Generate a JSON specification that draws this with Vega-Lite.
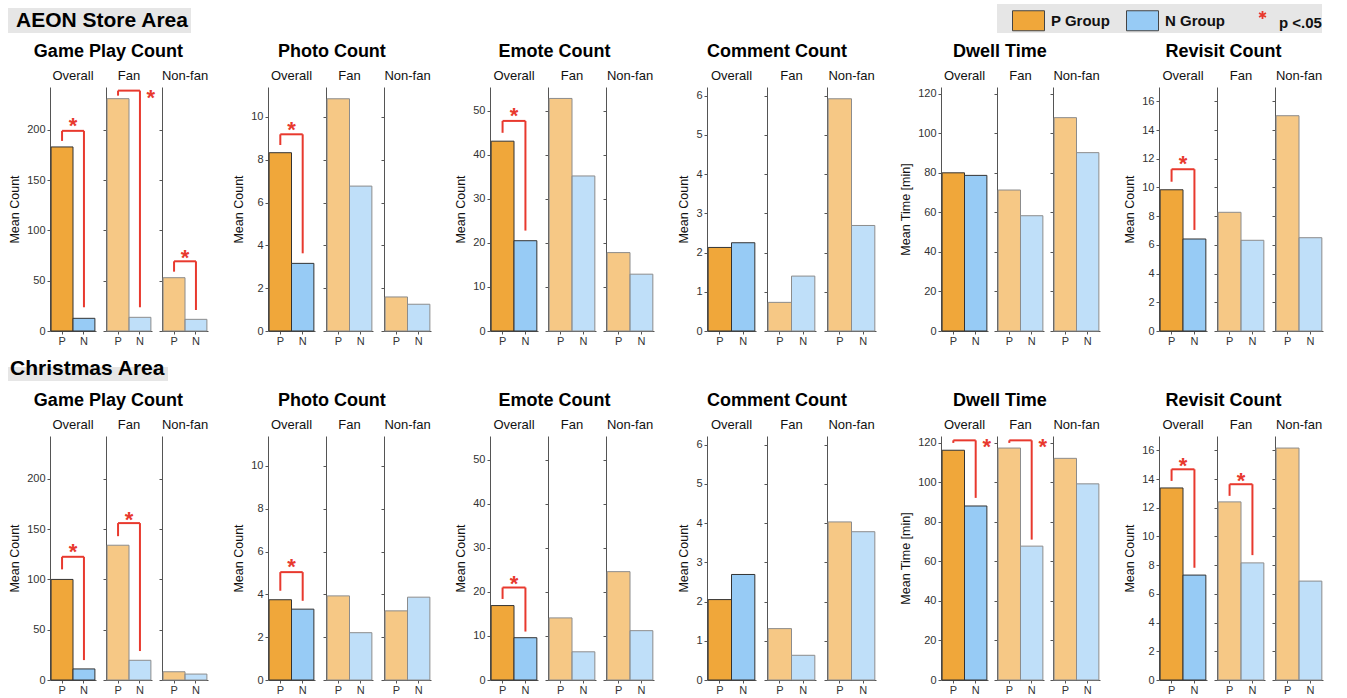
{
"$schema": "https://vega.github.io/schema/vega-lite/v6.json",
"padding": {"left": 8, "top": 4, "right": 5, "bottom": 0},
"background": "white",
"config": {
  "font": "Liberation Sans",
  "view": {"stroke": null},
  "axis": {"grid": false, "domainColor": "#555", "tickColor": "#555", "labelColor": "#333", "labelFontSize": 11, "titleFontSize": 12.5, "titleFontWeight": "normal", "titleColor": "#111", "tickSize": 3, "labelPadding": 2, "titlePadding": 5},
  "axisX": {"labelAngle": 0, "tickSize": 3, "labelPadding": 1, "labelFontSize": 11},
  "title": {"fontSize": 13, "fontWeight": "normal", "color": "#111", "frame": "group", "anchor": "middle", "offset": 0},
  "legend": {"fillColor": "#e6e6e6", "padding": 0, "symbolSize": 1024, "symbolStrokeWidth": 1, "labelFontSize": 15, "labelFontWeight": "bold", "labelColor": "#111", "labelOffset": 21, "columnPadding": 0, "labelFont": "Liberation Sans", "symbolOpacity": 1, "labelLimit": 300}
},
"spacing": 10,
"vconcat": [
{"data": {"values": []}, "width": 185, "height": 25, "mark": "point"},
{"spacing": 23, "hconcat": [
 {"title": {"text": "Game Play Count", "frame": "bounds", "fontSize": 18, "fontWeight": "bold", "color": "#000", "offset": 9},
  "data": {"values": [
   {"s":"Overall","k":"bar","a":"P","v":183},{"s":"Overall","k":"bar","a":"N","v":12.6},
   {"s":"Overall","k":"seg","a":"P","b":"P","v":189,"v2":199},{"s":"Overall","k":"seg","a":"P","b":"N","v":199,"v2":199},{"s":"Overall","k":"seg","a":"N","b":"N","v":23.6,"v2":199},{"s":"Overall","k":"star","a":"P","v":209.8},
   {"s":"Fan","k":"bar","a":"P","v":231},{"s":"Fan","k":"bar","a":"N","v":13.6},
   {"s":"Fan","k":"seg","a":"P","b":"P","v":234,"v2":239},{"s":"Fan","k":"seg","a":"P","b":"N","v":239,"v2":239},{"s":"Fan","k":"seg","a":"N","b":"N","v":23.6,"v2":239},{"s":"Fan","k":"star","a":"N","v":237.6},
   {"s":"Non-fan","k":"bar","a":"P","v":53},{"s":"Non-fan","k":"bar","a":"N","v":11.6},
   {"s":"Non-fan","k":"seg","a":"P","b":"P","v":59,"v2":69.3},{"s":"Non-fan","k":"seg","a":"P","b":"N","v":69.3,"v2":69.3},{"s":"Non-fan","k":"seg","a":"N","b":"N","v":20.9,"v2":69.3},{"s":"Non-fan","k":"star","a":"P","v":78.2}
  ]},
  "bounds": "flush", "spacing": 10,
  "hconcat": [
   {"title": "Overall", "width": 46, "height": 244, "transform": [{"filter": "datum.s === 'Overall'"}],
    "encoding": {"x": {"field":"a","type":"nominal","scale":{"domain":["P","N"],"paddingInner":0,"paddingOuter":0.05},"axis":{"title":null}},
                 "y": {"field":"v","type":"quantitative","scale":{"domain":[0,242.6],"nice":false},"axis":{"title":"Mean Count","values":[0,50,100,150,200]}}},
    "layer": [
     {"transform":[{"filter":"datum.k === 'bar'"}],"mark":{"type":"bar","stroke":"#333","strokeWidth":1},"encoding":{"color":{"field":"a","type":"nominal","title":null,"scale":{"domain":["P","N","sig"],"range":["#F0A73A","#97CBF5","#E8392E"]}}}},
     {"transform":[{"filter":"datum.k === 'seg'"}],"mark":{"type":"rule","color":"#E8392E","strokeWidth":2},"encoding":{"x2":{"field":"b"},"y2":{"field":"v2"}}},
     {"transform":[{"filter":"datum.k === 'star'"}],"mark":{"type":"text","text":"*","fontSize":22,"fontWeight":"bold","color":"#E8392E","baseline":"middle","dy":6},"encoding":{"x":{"field":"a","type":"nominal","bandPosition":1,"scale":{"domain":["P","N"],"paddingInner":0,"paddingOuter":0.05},"axis":{"title":null}}}},
     {"transform":[{"filter":"datum.k === 'legendonly'"}],"mark":{"type":"point","filled":true,"opacity":1},
      "encoding":{
       "color":{"field":"a","type":"nominal","title":null,"scale":{"domain":["P","N","sig"],"range":["#F0A73A","#97CBF5","#E8392E"]},
         "legend":{"orient":"none","legendX":947,"legendY":-4,"direction":"horizontal","labelExpr":"datum.value === 'P' ? 'P Group' : datum.value === 'N' ? 'N Group' : 'p <.05'",
           "encode":{"labels":{"fontWeight":{"condition":{"test":"datum.value === 'sig'","value":"normal"},"value":"bold"}}}}},
       "shape":{"field":"a","type":"nominal","title":null,"scale":{"domain":["P","N","sig"],"range":["M-0.0625,-0.625H1.9375V0.625H-0.0625Z","M-0.0625,-0.625H1.9375V0.625H-0.0625Z","M1.256,-0.731L1.369,-0.731L1.369,-0.231L1.256,-0.231ZM1.501,-0.308L1.068,-0.558L1.124,-0.655L1.557,-0.405ZM1.557,-0.558L1.124,-0.308L1.068,-0.405L1.501,-0.655Z"]},
         "legend":{"orient":"none","legendX":947,"legendY":-4,"direction":"horizontal","labelExpr":"datum.value === 'P' ? 'P Group' : datum.value === 'N' ? 'N Group' : 'p <.05'"}},
       "stroke":{"field":"a","type":"nominal","title":null,"scale":{"domain":["P","N","sig"],"range":["#444444","#444444","transparent"]},
         "legend":{"orient":"none","legendX":947,"legendY":-4,"direction":"horizontal","labelExpr":"datum.value === 'P' ? 'P Group' : datum.value === 'N' ? 'N Group' : 'p <.05'"}},
       "strokeDash":{"field":"a","type":"nominal","title":null,"scale":{"domain":["AEON Store Area"],"range":[[1,0]]},
         "legend":{"orient":"none","legendX":-42,"legendY":0,"fillColor":"#e6e6e6","padding":2,"labelFontSize":21,"labelFontWeight":"bold","labelColor":"#000","symbolSize":0,"symbolOpacity":0,"symbolStrokeWidth":0,"labelOffset":-15,"labelLimit":300}},
       "size":{"field":"a","type":"ordinal","title":null,"scale":{"domain":["Christmas Area"],"range":[0]},
         "legend":{"orient":"none","legendX":-42,"legendY":359,"fillColor":"#e6e6e6","padding":2,"labelFontSize":21,"labelFontWeight":"bold","labelColor":"#000","symbolSize":0,"symbolOpacity":0,"symbolStrokeWidth":0,"labelOffset":18,"labelLimit":300}}}}
    ]},
   {"title": "Fan", "width": 46, "height": 244, "transform": [{"filter": "datum.s === 'Fan'"}],
    "encoding": {"x": {"field":"a","type":"nominal","scale":{"domain":["P","N"],"paddingInner":0,"paddingOuter":0.05},"axis":{"title":null}},
                 "y": {"field":"v","type":"quantitative","scale":{"domain":[0,242.6],"nice":false},"axis":{"title":null,"labels":false,"values":[0,50,100,150,200]}}},
    "layer": [
     {"transform":[{"filter":"datum.k === 'bar'"}],"mark":{"type":"bar","stroke":"#8c8c8c","strokeWidth":1,"fillOpacity":0.62},"encoding":{"color":{"field":"a","type":"nominal","title":null,"scale":{"domain":["P","N","sig"],"range":["#F0A73A","#97CBF5","#E8392E"]}}}},
     {"transform":[{"filter":"datum.k === 'seg'"}],"mark":{"type":"rule","color":"#E8392E","strokeWidth":2},"encoding":{"x2":{"field":"b"},"y2":{"field":"v2"}}},
     {"transform":[{"filter":"datum.k === 'star'"}],"mark":{"type":"text","text":"*","fontSize":22,"fontWeight":"bold","color":"#E8392E","baseline":"middle","dy":6},"encoding":{"x":{"field":"a","type":"nominal","bandPosition":1,"scale":{"domain":["P","N"],"paddingInner":0,"paddingOuter":0.05},"axis":{"title":null}}}}
    ]},
   {"title": "Non-fan", "width": 46, "height": 244, "transform": [{"filter": "datum.s === 'Non-fan'"}],
    "encoding": {"x": {"field":"a","type":"nominal","scale":{"domain":["P","N"],"paddingInner":0,"paddingOuter":0.05},"axis":{"title":null}},
                 "y": {"field":"v","type":"quantitative","scale":{"domain":[0,242.6],"nice":false},"axis":{"title":null,"labels":false,"values":[0,50,100,150,200]}}},
    "layer": [
     {"transform":[{"filter":"datum.k === 'bar'"}],"mark":{"type":"bar","stroke":"#8c8c8c","strokeWidth":1,"fillOpacity":0.62},"encoding":{"color":{"field":"a","type":"nominal","title":null,"scale":{"domain":["P","N","sig"],"range":["#F0A73A","#97CBF5","#E8392E"]}}}},
     {"transform":[{"filter":"datum.k === 'seg'"}],"mark":{"type":"rule","color":"#E8392E","strokeWidth":2},"encoding":{"x2":{"field":"b"},"y2":{"field":"v2"}}},
     {"transform":[{"filter":"datum.k === 'star'"}],"mark":{"type":"text","text":"*","fontSize":22,"fontWeight":"bold","color":"#E8392E","baseline":"middle","dy":6},"encoding":{"x":{"field":"a","type":"nominal","bandPosition":1,"scale":{"domain":["P","N"],"paddingInner":0,"paddingOuter":0.05},"axis":{"title":null}}}}
    ]}
  ]},
 {"title": {"text": "Photo Count", "frame": "bounds", "fontSize": 18, "fontWeight": "bold", "color": "#000", "offset": 9},
  "data": {"values": [
   {"s":"Overall","k":"bar","a":"P","v":8.33},{"s":"Overall","k":"bar","a":"N","v":3.16},
   {"s":"Overall","k":"seg","a":"P","b":"P","v":8.69,"v2":9.19},{"s":"Overall","k":"seg","a":"P","b":"N","v":9.19,"v2":9.19},{"s":"Overall","k":"seg","a":"N","b":"N","v":3.63,"v2":9.19},{"s":"Overall","k":"star","a":"P","v":9.67},
   {"s":"Fan","k":"bar","a":"P","v":10.85},{"s":"Fan","k":"bar","a":"N","v":6.77},
   {"s":"Non-fan","k":"bar","a":"P","v":1.59},{"s":"Non-fan","k":"bar","a":"N","v":1.25}
  ]},
  "bounds": "flush", "spacing": 11,
  "hconcat": [
   {"title": "Overall", "width": 47, "height": 244, "transform": [{"filter": "datum.s === 'Overall'"}],
    "encoding": {"x": {"field":"a","type":"nominal","scale":{"domain":["P","N"],"paddingInner":0,"paddingOuter":0.05},"axis":{"title":null}},
                 "y": {"field":"v","type":"quantitative","scale":{"domain":[0,11.4],"nice":false},"axis":{"title":"Mean Count","values":[0,2,4,6,8,10]}}},
    "layer": [
     {"transform":[{"filter":"datum.k === 'bar'"}],"mark":{"type":"bar","stroke":"#333","strokeWidth":1},"encoding":{"color":{"field":"a","type":"nominal","title":null,"scale":{"domain":["P","N","sig"],"range":["#F0A73A","#97CBF5","#E8392E"]}}}},
     {"transform":[{"filter":"datum.k === 'seg'"}],"mark":{"type":"rule","color":"#E8392E","strokeWidth":2},"encoding":{"x2":{"field":"b"},"y2":{"field":"v2"}}},
     {"transform":[{"filter":"datum.k === 'star'"}],"mark":{"type":"text","text":"*","fontSize":22,"fontWeight":"bold","color":"#E8392E","baseline":"middle","dy":6},"encoding":{"x":{"field":"a","type":"nominal","bandPosition":1,"scale":{"domain":["P","N"],"paddingInner":0,"paddingOuter":0.05},"axis":{"title":null}}}}
    ]},
   {"title": "Fan", "width": 47, "height": 244, "transform": [{"filter": "datum.s === 'Fan' && datum.k === 'bar'"}], "mark": {"type":"bar","stroke":"#8c8c8c","strokeWidth":1,"fillOpacity":0.62},
    "encoding": {"x": {"field":"a","type":"nominal","scale":{"domain":["P","N"],"paddingInner":0,"paddingOuter":0.05},"axis":{"title":null}},
                 "y": {"field":"v","type":"quantitative","scale":{"domain":[0,11.4],"nice":false},"axis":{"title":null,"labels":false,"values":[0,2,4,6,8,10]}},
                 "color":{"field":"a","type":"nominal","title":null,"scale":{"domain":["P","N","sig"],"range":["#F0A73A","#97CBF5","#E8392E"]}}}},
   {"title": "Non-fan", "width": 47, "height": 244, "transform": [{"filter": "datum.s === 'Non-fan' && datum.k === 'bar'"}], "mark": {"type":"bar","stroke":"#8c8c8c","strokeWidth":1,"fillOpacity":0.62},
    "encoding": {"x": {"field":"a","type":"nominal","scale":{"domain":["P","N"],"paddingInner":0,"paddingOuter":0.05},"axis":{"title":null}},
                 "y": {"field":"v","type":"quantitative","scale":{"domain":[0,11.4],"nice":false},"axis":{"title":null,"labels":false,"values":[0,2,4,6,8,10]}},
                 "color":{"field":"a","type":"nominal","title":null,"scale":{"domain":["P","N","sig"],"range":["#F0A73A","#97CBF5","#E8392E"]}}}}
  ]},
 {"title": {"text": "Emote Count", "frame": "bounds", "fontSize": 18, "fontWeight": "bold", "color": "#000", "offset": 9},
  "data": {"values": [
   {"s":"Overall","k":"bar","a":"P","v":43.1},{"s":"Overall","k":"bar","a":"N","v":20.5},
   {"s":"Overall","k":"seg","a":"P","b":"P","v":45.0,"v2":47.7},{"s":"Overall","k":"seg","a":"P","b":"N","v":47.7,"v2":47.7},{"s":"Overall","k":"seg","a":"N","b":"N","v":22.8,"v2":47.7},{"s":"Overall","k":"star","a":"P","v":50.2},
   {"s":"Fan","k":"bar","a":"P","v":52.8},{"s":"Fan","k":"bar","a":"N","v":35.2},
   {"s":"Non-fan","k":"bar","a":"P","v":17.8},{"s":"Non-fan","k":"bar","a":"N","v":12.9}
  ]},
  "bounds": "flush", "spacing": 10,
  "hconcat": [
   {"title": "Overall", "width": 48, "height": 244, "transform": [{"filter": "datum.s === 'Overall'"}],
    "encoding": {"x": {"field":"a","type":"nominal","scale":{"domain":["P","N"],"paddingInner":0,"paddingOuter":0.05},"axis":{"title":null}},
                 "y": {"field":"v","type":"quantitative","scale":{"domain":[0,55.4],"nice":false},"axis":{"title":"Mean Count","values":[0,10,20,30,40,50]}}},
    "layer": [
     {"transform":[{"filter":"datum.k === 'bar'"}],"mark":{"type":"bar","stroke":"#333","strokeWidth":1},"encoding":{"color":{"field":"a","type":"nominal","title":null,"scale":{"domain":["P","N","sig"],"range":["#F0A73A","#97CBF5","#E8392E"]}}}},
     {"transform":[{"filter":"datum.k === 'seg'"}],"mark":{"type":"rule","color":"#E8392E","strokeWidth":2},"encoding":{"x2":{"field":"b"},"y2":{"field":"v2"}}},
     {"transform":[{"filter":"datum.k === 'star'"}],"mark":{"type":"text","text":"*","fontSize":22,"fontWeight":"bold","color":"#E8392E","baseline":"middle","dy":6},"encoding":{"x":{"field":"a","type":"nominal","bandPosition":1,"scale":{"domain":["P","N"],"paddingInner":0,"paddingOuter":0.05},"axis":{"title":null}}}}
    ]},
   {"title": "Fan", "width": 48, "height": 244, "transform": [{"filter": "datum.s === 'Fan' && datum.k === 'bar'"}], "mark": {"type":"bar","stroke":"#8c8c8c","strokeWidth":1,"fillOpacity":0.62},
    "encoding": {"x": {"field":"a","type":"nominal","scale":{"domain":["P","N"],"paddingInner":0,"paddingOuter":0.05},"axis":{"title":null}},
                 "y": {"field":"v","type":"quantitative","scale":{"domain":[0,55.4],"nice":false},"axis":{"title":null,"labels":false,"values":[0,10,20,30,40,50]}},
                 "color":{"field":"a","type":"nominal","title":null,"scale":{"domain":["P","N","sig"],"range":["#F0A73A","#97CBF5","#E8392E"]}}}},
   {"title": "Non-fan", "width": 48, "height": 244, "transform": [{"filter": "datum.s === 'Non-fan' && datum.k === 'bar'"}], "mark": {"type":"bar","stroke":"#8c8c8c","strokeWidth":1,"fillOpacity":0.62},
    "encoding": {"x": {"field":"a","type":"nominal","scale":{"domain":["P","N"],"paddingInner":0,"paddingOuter":0.05},"axis":{"title":null}},
                 "y": {"field":"v","type":"quantitative","scale":{"domain":[0,55.4],"nice":false},"axis":{"title":null,"labels":false,"values":[0,10,20,30,40,50]}},
                 "color":{"field":"a","type":"nominal","title":null,"scale":{"domain":["P","N","sig"],"range":["#F0A73A","#97CBF5","#E8392E"]}}}}
  ]},
 {"title": {"text": "Comment Count", "frame": "bounds", "fontSize": 18, "fontWeight": "bold", "color": "#000", "offset": 9},
  "data": {"values": [
   {"s":"Overall","k":"bar","a":"P","v":2.13},{"s":"Overall","k":"bar","a":"N","v":2.25},
   {"s":"Fan","k":"bar","a":"P","v":0.73},{"s":"Fan","k":"bar","a":"N","v":1.40},
   {"s":"Non-fan","k":"bar","a":"P","v":5.92},{"s":"Non-fan","k":"bar","a":"N","v":2.69}
  ]},
  "bounds": "flush", "spacing": 11,
  "hconcat": [
   {"title": "Overall", "width": 49, "height": 244, "transform": [{"filter": "datum.s === 'Overall' && datum.k === 'bar'"}], "mark": {"type":"bar","stroke":"#333","strokeWidth":1},
    "encoding": {"x": {"field":"a","type":"nominal","scale":{"domain":["P","N"],"paddingInner":0,"paddingOuter":0.05},"axis":{"title":null}},
                 "y": {"field":"v","type":"quantitative","scale":{"domain":[0,6.22],"nice":false},"axis":{"title":"Mean Count","values":[0,1,2,3,4,5,6]}},
                 "color":{"field":"a","type":"nominal","title":null,"scale":{"domain":["P","N","sig"],"range":["#F0A73A","#97CBF5","#E8392E"]}}}},
   {"title": "Fan", "width": 49, "height": 244, "transform": [{"filter": "datum.s === 'Fan' && datum.k === 'bar'"}], "mark": {"type":"bar","stroke":"#8c8c8c","strokeWidth":1,"fillOpacity":0.62},
    "encoding": {"x": {"field":"a","type":"nominal","scale":{"domain":["P","N"],"paddingInner":0,"paddingOuter":0.05},"axis":{"title":null}},
                 "y": {"field":"v","type":"quantitative","scale":{"domain":[0,6.22],"nice":false},"axis":{"title":null,"labels":false,"values":[0,1,2,3,4,5,6]}},
                 "color":{"field":"a","type":"nominal","title":null,"scale":{"domain":["P","N","sig"],"range":["#F0A73A","#97CBF5","#E8392E"]}}}},
   {"title": "Non-fan", "width": 49, "height": 244, "transform": [{"filter": "datum.s === 'Non-fan' && datum.k === 'bar'"}], "mark": {"type":"bar","stroke":"#8c8c8c","strokeWidth":1,"fillOpacity":0.62},
    "encoding": {"x": {"field":"a","type":"nominal","scale":{"domain":["P","N"],"paddingInner":0,"paddingOuter":0.05},"axis":{"title":null}},
                 "y": {"field":"v","type":"quantitative","scale":{"domain":[0,6.22],"nice":false},"axis":{"title":null,"labels":false,"values":[0,1,2,3,4,5,6]}},
                 "color":{"field":"a","type":"nominal","title":null,"scale":{"domain":["P","N","sig"],"range":["#F0A73A","#97CBF5","#E8392E"]}}}}
  ]},
 {"title": {"text": "Dwell Time", "frame": "bounds", "fontSize": 18, "fontWeight": "bold", "color": "#000", "offset": 9},
  "data": {"values": [
   {"s":"Overall","k":"bar","a":"P","v":80.0},{"s":"Overall","k":"bar","a":"N","v":78.7},
   {"s":"Fan","k":"bar","a":"P","v":71.3},{"s":"Fan","k":"bar","a":"N","v":58.3},
   {"s":"Non-fan","k":"bar","a":"P","v":107.9},{"s":"Non-fan","k":"bar","a":"N","v":90.2}
  ]},
  "bounds": "flush", "spacing": 9,
  "hconcat": [
   {"title": "Overall", "width": 47, "height": 244, "transform": [{"filter": "datum.s === 'Overall' && datum.k === 'bar'"}], "mark": {"type":"bar","stroke":"#333","strokeWidth":1},
    "encoding": {"x": {"field":"a","type":"nominal","scale":{"domain":["P","N"],"paddingInner":0,"paddingOuter":0.05},"axis":{"title":null}},
                 "y": {"field":"v","type":"quantitative","scale":{"domain":[0,123.4],"nice":false},"axis":{"title":"Mean Time [min]","values":[0,20,40,60,80,100,120]}},
                 "color":{"field":"a","type":"nominal","title":null,"scale":{"domain":["P","N","sig"],"range":["#F0A73A","#97CBF5","#E8392E"]}}}},
   {"title": "Fan", "width": 47, "height": 244, "transform": [{"filter": "datum.s === 'Fan' && datum.k === 'bar'"}], "mark": {"type":"bar","stroke":"#8c8c8c","strokeWidth":1,"fillOpacity":0.62},
    "encoding": {"x": {"field":"a","type":"nominal","scale":{"domain":["P","N"],"paddingInner":0,"paddingOuter":0.05},"axis":{"title":null}},
                 "y": {"field":"v","type":"quantitative","scale":{"domain":[0,123.4],"nice":false},"axis":{"title":null,"labels":false,"values":[0,20,40,60,80,100,120]}},
                 "color":{"field":"a","type":"nominal","title":null,"scale":{"domain":["P","N","sig"],"range":["#F0A73A","#97CBF5","#E8392E"]}}}},
   {"title": "Non-fan", "width": 47, "height": 244, "transform": [{"filter": "datum.s === 'Non-fan' && datum.k === 'bar'"}], "mark": {"type":"bar","stroke":"#8c8c8c","strokeWidth":1,"fillOpacity":0.62},
    "encoding": {"x": {"field":"a","type":"nominal","scale":{"domain":["P","N"],"paddingInner":0,"paddingOuter":0.05},"axis":{"title":null}},
                 "y": {"field":"v","type":"quantitative","scale":{"domain":[0,123.4],"nice":false},"axis":{"title":null,"labels":false,"values":[0,20,40,60,80,100,120]}},
                 "color":{"field":"a","type":"nominal","title":null,"scale":{"domain":["P","N","sig"],"range":["#F0A73A","#97CBF5","#E8392E"]}}}}
  ]},
 {"title": {"text": "Revisit Count", "frame": "bounds", "fontSize": 18, "fontWeight": "bold", "color": "#000", "offset": 9},
  "data": {"values": [
   {"s":"Overall","k":"bar","a":"P","v":9.84},{"s":"Overall","k":"bar","a":"N","v":6.41},
   {"s":"Overall","k":"seg","a":"P","b":"P","v":10.40,"v2":11.27},{"s":"Overall","k":"seg","a":"P","b":"N","v":11.27,"v2":11.27},{"s":"Overall","k":"seg","a":"N","b":"N","v":7.04,"v2":11.27},{"s":"Overall","k":"star","a":"P","v":12.03},
   {"s":"Fan","k":"bar","a":"P","v":8.27},{"s":"Fan","k":"bar","a":"N","v":6.32},
   {"s":"Non-fan","k":"bar","a":"P","v":15.0},{"s":"Non-fan","k":"bar","a":"N","v":6.5}
  ]},
  "bounds": "flush", "spacing": 10,
  "hconcat": [
   {"title": "Overall", "width": 48, "height": 244, "transform": [{"filter": "datum.s === 'Overall'"}],
    "encoding": {"x": {"field":"a","type":"nominal","scale":{"domain":["P","N"],"paddingInner":0,"paddingOuter":0.05},"axis":{"title":null}},
                 "y": {"field":"v","type":"quantitative","scale":{"domain":[0,17],"nice":false},"axis":{"title":"Mean Count","values":[0,2,4,6,8,10,12,14,16]}}},
    "layer": [
     {"transform":[{"filter":"datum.k === 'bar'"}],"mark":{"type":"bar","stroke":"#333","strokeWidth":1},"encoding":{"color":{"field":"a","type":"nominal","title":null,"scale":{"domain":["P","N","sig"],"range":["#F0A73A","#97CBF5","#E8392E"]}}}},
     {"transform":[{"filter":"datum.k === 'seg'"}],"mark":{"type":"rule","color":"#E8392E","strokeWidth":2},"encoding":{"x2":{"field":"b"},"y2":{"field":"v2"}}},
     {"transform":[{"filter":"datum.k === 'star'"}],"mark":{"type":"text","text":"*","fontSize":22,"fontWeight":"bold","color":"#E8392E","baseline":"middle","dy":6},"encoding":{"x":{"field":"a","type":"nominal","bandPosition":1,"scale":{"domain":["P","N"],"paddingInner":0,"paddingOuter":0.05},"axis":{"title":null}}}}
    ]},
   {"title": "Fan", "width": 48, "height": 244, "transform": [{"filter": "datum.s === 'Fan' && datum.k === 'bar'"}], "mark": {"type":"bar","stroke":"#8c8c8c","strokeWidth":1,"fillOpacity":0.62},
    "encoding": {"x": {"field":"a","type":"nominal","scale":{"domain":["P","N"],"paddingInner":0,"paddingOuter":0.05},"axis":{"title":null}},
                 "y": {"field":"v","type":"quantitative","scale":{"domain":[0,17],"nice":false},"axis":{"title":null,"labels":false,"values":[0,2,4,6,8,10,12,14,16]}},
                 "color":{"field":"a","type":"nominal","title":null,"scale":{"domain":["P","N","sig"],"range":["#F0A73A","#97CBF5","#E8392E"]}}}},
   {"title": "Non-fan", "width": 48, "height": 244, "transform": [{"filter": "datum.s === 'Non-fan' && datum.k === 'bar'"}], "mark": {"type":"bar","stroke":"#8c8c8c","strokeWidth":1,"fillOpacity":0.62},
    "encoding": {"x": {"field":"a","type":"nominal","scale":{"domain":["P","N"],"paddingInner":0,"paddingOuter":0.05},"axis":{"title":null}},
                 "y": {"field":"v","type":"quantitative","scale":{"domain":[0,17],"nice":false},"axis":{"title":null,"labels":false,"values":[0,2,4,6,8,10,12,14,16]}},
                 "color":{"field":"a","type":"nominal","title":null,"scale":{"domain":["P","N","sig"],"range":["#F0A73A","#97CBF5","#E8392E"]}}}}
  ]}
]},
{"data": {"values": []}, "width": 185, "height": 25, "mark": "point"},
{"spacing": 23, "hconcat": [
 {"title": {"text": "Game Play Count", "frame": "bounds", "fontSize": 18, "fontWeight": "bold", "color": "#000", "offset": 9},
  "data": {"values": [
   {"s":"Overall","k":"bar","a":"P","v":100},{"s":"Overall","k":"bar","a":"N","v":11},
   {"s":"Overall","k":"seg","a":"P","b":"P","v":110,"v2":122.5},{"s":"Overall","k":"seg","a":"P","b":"N","v":122.5,"v2":122.5},{"s":"Overall","k":"seg","a":"N","b":"N","v":19.8,"v2":122.5},{"s":"Overall","k":"star","a":"P","v":133.5},
   {"s":"Fan","k":"bar","a":"P","v":134},{"s":"Fan","k":"bar","a":"N","v":19.6},
   {"s":"Fan","k":"seg","a":"P","b":"P","v":143,"v2":156},{"s":"Fan","k":"seg","a":"P","b":"N","v":156,"v2":156},{"s":"Fan","k":"seg","a":"N","b":"N","v":28.8,"v2":156},{"s":"Fan","k":"star","a":"P","v":164.6},
   {"s":"Non-fan","k":"bar","a":"P","v":8.2},{"s":"Non-fan","k":"bar","a":"N","v":5.9}
  ]},
  "bounds": "flush", "spacing": 10,
  "hconcat": [
   {"title": "Overall", "width": 46, "height": 244, "transform": [{"filter": "datum.s === 'Overall'"}],
    "encoding": {"x": {"field":"a","type":"nominal","scale":{"domain":["P","N"],"paddingInner":0,"paddingOuter":0.05},"axis":{"title":null}},
                 "y": {"field":"v","type":"quantitative","scale":{"domain":[0,242.6],"nice":false},"axis":{"title":"Mean Count","values":[0,50,100,150,200]}}},
    "layer": [
     {"transform":[{"filter":"datum.k === 'bar'"}],"mark":{"type":"bar","stroke":"#333","strokeWidth":1},"encoding":{"color":{"field":"a","type":"nominal","title":null,"scale":{"domain":["P","N","sig"],"range":["#F0A73A","#97CBF5","#E8392E"]}}}},
     {"transform":[{"filter":"datum.k === 'seg'"}],"mark":{"type":"rule","color":"#E8392E","strokeWidth":2},"encoding":{"x2":{"field":"b"},"y2":{"field":"v2"}}},
     {"transform":[{"filter":"datum.k === 'star'"}],"mark":{"type":"text","text":"*","fontSize":22,"fontWeight":"bold","color":"#E8392E","baseline":"middle","dy":6},"encoding":{"x":{"field":"a","type":"nominal","bandPosition":1,"scale":{"domain":["P","N"],"paddingInner":0,"paddingOuter":0.05},"axis":{"title":null}}}}
    ]},
   {"title": "Fan", "width": 46, "height": 244, "transform": [{"filter": "datum.s === 'Fan'"}],
    "encoding": {"x": {"field":"a","type":"nominal","scale":{"domain":["P","N"],"paddingInner":0,"paddingOuter":0.05},"axis":{"title":null}},
                 "y": {"field":"v","type":"quantitative","scale":{"domain":[0,242.6],"nice":false},"axis":{"title":null,"labels":false,"values":[0,50,100,150,200]}}},
    "layer": [
     {"transform":[{"filter":"datum.k === 'bar'"}],"mark":{"type":"bar","stroke":"#8c8c8c","strokeWidth":1,"fillOpacity":0.62},"encoding":{"color":{"field":"a","type":"nominal","title":null,"scale":{"domain":["P","N","sig"],"range":["#F0A73A","#97CBF5","#E8392E"]}}}},
     {"transform":[{"filter":"datum.k === 'seg'"}],"mark":{"type":"rule","color":"#E8392E","strokeWidth":2},"encoding":{"x2":{"field":"b"},"y2":{"field":"v2"}}},
     {"transform":[{"filter":"datum.k === 'star'"}],"mark":{"type":"text","text":"*","fontSize":22,"fontWeight":"bold","color":"#E8392E","baseline":"middle","dy":6},"encoding":{"x":{"field":"a","type":"nominal","bandPosition":1,"scale":{"domain":["P","N"],"paddingInner":0,"paddingOuter":0.05},"axis":{"title":null}}}}
    ]},
   {"title": "Non-fan", "width": 46, "height": 244, "transform": [{"filter": "datum.s === 'Non-fan' && datum.k === 'bar'"}], "mark": {"type":"bar","stroke":"#8c8c8c","strokeWidth":1,"fillOpacity":0.62},
    "encoding": {"x": {"field":"a","type":"nominal","scale":{"domain":["P","N"],"paddingInner":0,"paddingOuter":0.05},"axis":{"title":null}},
                 "y": {"field":"v","type":"quantitative","scale":{"domain":[0,242.6],"nice":false},"axis":{"title":null,"labels":false,"values":[0,50,100,150,200]}},
                 "color":{"field":"a","type":"nominal","title":null,"scale":{"domain":["P","N","sig"],"range":["#F0A73A","#97CBF5","#E8392E"]}}}}
  ]},
 {"title": {"text": "Photo Count", "frame": "bounds", "fontSize": 18, "fontWeight": "bold", "color": "#000", "offset": 9},
  "data": {"values": [
   {"s":"Overall","k":"bar","a":"P","v":3.75},{"s":"Overall","k":"bar","a":"N","v":3.31},
   {"s":"Overall","k":"seg","a":"P","b":"P","v":4.17,"v2":5.04},{"s":"Overall","k":"seg","a":"P","b":"N","v":5.04,"v2":5.04},{"s":"Overall","k":"seg","a":"N","b":"N","v":3.70,"v2":5.04},{"s":"Overall","k":"star","a":"P","v":5.57},
   {"s":"Fan","k":"bar","a":"P","v":3.93},{"s":"Fan","k":"bar","a":"N","v":2.21},
   {"s":"Non-fan","k":"bar","a":"P","v":3.23},{"s":"Non-fan","k":"bar","a":"N","v":3.87}
  ]},
  "bounds": "flush", "spacing": 11,
  "hconcat": [
   {"title": "Overall", "width": 47, "height": 244, "transform": [{"filter": "datum.s === 'Overall'"}],
    "encoding": {"x": {"field":"a","type":"nominal","scale":{"domain":["P","N"],"paddingInner":0,"paddingOuter":0.05},"axis":{"title":null}},
                 "y": {"field":"v","type":"quantitative","scale":{"domain":[0,11.4],"nice":false},"axis":{"title":"Mean Count","values":[0,2,4,6,8,10]}}},
    "layer": [
     {"transform":[{"filter":"datum.k === 'bar'"}],"mark":{"type":"bar","stroke":"#333","strokeWidth":1},"encoding":{"color":{"field":"a","type":"nominal","title":null,"scale":{"domain":["P","N","sig"],"range":["#F0A73A","#97CBF5","#E8392E"]}}}},
     {"transform":[{"filter":"datum.k === 'seg'"}],"mark":{"type":"rule","color":"#E8392E","strokeWidth":2},"encoding":{"x2":{"field":"b"},"y2":{"field":"v2"}}},
     {"transform":[{"filter":"datum.k === 'star'"}],"mark":{"type":"text","text":"*","fontSize":22,"fontWeight":"bold","color":"#E8392E","baseline":"middle","dy":6},"encoding":{"x":{"field":"a","type":"nominal","bandPosition":1,"scale":{"domain":["P","N"],"paddingInner":0,"paddingOuter":0.05},"axis":{"title":null}}}}
    ]},
   {"title": "Fan", "width": 47, "height": 244, "transform": [{"filter": "datum.s === 'Fan' && datum.k === 'bar'"}], "mark": {"type":"bar","stroke":"#8c8c8c","strokeWidth":1,"fillOpacity":0.62},
    "encoding": {"x": {"field":"a","type":"nominal","scale":{"domain":["P","N"],"paddingInner":0,"paddingOuter":0.05},"axis":{"title":null}},
                 "y": {"field":"v","type":"quantitative","scale":{"domain":[0,11.4],"nice":false},"axis":{"title":null,"labels":false,"values":[0,2,4,6,8,10]}},
                 "color":{"field":"a","type":"nominal","title":null,"scale":{"domain":["P","N","sig"],"range":["#F0A73A","#97CBF5","#E8392E"]}}}},
   {"title": "Non-fan", "width": 47, "height": 244, "transform": [{"filter": "datum.s === 'Non-fan' && datum.k === 'bar'"}], "mark": {"type":"bar","stroke":"#8c8c8c","strokeWidth":1,"fillOpacity":0.62},
    "encoding": {"x": {"field":"a","type":"nominal","scale":{"domain":["P","N"],"paddingInner":0,"paddingOuter":0.05},"axis":{"title":null}},
                 "y": {"field":"v","type":"quantitative","scale":{"domain":[0,11.4],"nice":false},"axis":{"title":null,"labels":false,"values":[0,2,4,6,8,10]}},
                 "color":{"field":"a","type":"nominal","title":null,"scale":{"domain":["P","N","sig"],"range":["#F0A73A","#97CBF5","#E8392E"]}}}}
  ]},
 {"title": {"text": "Emote Count", "frame": "bounds", "fontSize": 18, "fontWeight": "bold", "color": "#000", "offset": 9},
  "data": {"values": [
   {"s":"Overall","k":"bar","a":"P","v":16.9},{"s":"Overall","k":"bar","a":"N","v":9.6},
   {"s":"Overall","k":"seg","a":"P","b":"P","v":18.4,"v2":21.0},{"s":"Overall","k":"seg","a":"P","b":"N","v":21.0,"v2":21.0},{"s":"Overall","k":"seg","a":"N","b":"N","v":11.0,"v2":21.0},{"s":"Overall","k":"star","a":"P","v":23.1},
   {"s":"Fan","k":"bar","a":"P","v":14.1},{"s":"Fan","k":"bar","a":"N","v":6.4},
   {"s":"Non-fan","k":"bar","a":"P","v":24.6},{"s":"Non-fan","k":"bar","a":"N","v":11.2}
  ]},
  "bounds": "flush", "spacing": 10,
  "hconcat": [
   {"title": "Overall", "width": 48, "height": 244, "transform": [{"filter": "datum.s === 'Overall'"}],
    "encoding": {"x": {"field":"a","type":"nominal","scale":{"domain":["P","N"],"paddingInner":0,"paddingOuter":0.05},"axis":{"title":null}},
                 "y": {"field":"v","type":"quantitative","scale":{"domain":[0,55.4],"nice":false},"axis":{"title":"Mean Count","values":[0,10,20,30,40,50]}}},
    "layer": [
     {"transform":[{"filter":"datum.k === 'bar'"}],"mark":{"type":"bar","stroke":"#333","strokeWidth":1},"encoding":{"color":{"field":"a","type":"nominal","title":null,"scale":{"domain":["P","N","sig"],"range":["#F0A73A","#97CBF5","#E8392E"]}}}},
     {"transform":[{"filter":"datum.k === 'seg'"}],"mark":{"type":"rule","color":"#E8392E","strokeWidth":2},"encoding":{"x2":{"field":"b"},"y2":{"field":"v2"}}},
     {"transform":[{"filter":"datum.k === 'star'"}],"mark":{"type":"text","text":"*","fontSize":22,"fontWeight":"bold","color":"#E8392E","baseline":"middle","dy":6},"encoding":{"x":{"field":"a","type":"nominal","bandPosition":1,"scale":{"domain":["P","N"],"paddingInner":0,"paddingOuter":0.05},"axis":{"title":null}}}}
    ]},
   {"title": "Fan", "width": 48, "height": 244, "transform": [{"filter": "datum.s === 'Fan' && datum.k === 'bar'"}], "mark": {"type":"bar","stroke":"#8c8c8c","strokeWidth":1,"fillOpacity":0.62},
    "encoding": {"x": {"field":"a","type":"nominal","scale":{"domain":["P","N"],"paddingInner":0,"paddingOuter":0.05},"axis":{"title":null}},
                 "y": {"field":"v","type":"quantitative","scale":{"domain":[0,55.4],"nice":false},"axis":{"title":null,"labels":false,"values":[0,10,20,30,40,50]}},
                 "color":{"field":"a","type":"nominal","title":null,"scale":{"domain":["P","N","sig"],"range":["#F0A73A","#97CBF5","#E8392E"]}}}},
   {"title": "Non-fan", "width": 48, "height": 244, "transform": [{"filter": "datum.s === 'Non-fan' && datum.k === 'bar'"}], "mark": {"type":"bar","stroke":"#8c8c8c","strokeWidth":1,"fillOpacity":0.62},
    "encoding": {"x": {"field":"a","type":"nominal","scale":{"domain":["P","N"],"paddingInner":0,"paddingOuter":0.05},"axis":{"title":null}},
                 "y": {"field":"v","type":"quantitative","scale":{"domain":[0,55.4],"nice":false},"axis":{"title":null,"labels":false,"values":[0,10,20,30,40,50]}},
                 "color":{"field":"a","type":"nominal","title":null,"scale":{"domain":["P","N","sig"],"range":["#F0A73A","#97CBF5","#E8392E"]}}}}
  ]},
 {"title": {"text": "Comment Count", "frame": "bounds", "fontSize": 18, "fontWeight": "bold", "color": "#000", "offset": 9},
  "data": {"values": [
   {"s":"Overall","k":"bar","a":"P","v":2.05},{"s":"Overall","k":"bar","a":"N","v":2.69},
   {"s":"Fan","k":"bar","a":"P","v":1.31},{"s":"Fan","k":"bar","a":"N","v":0.63},
   {"s":"Non-fan","k":"bar","a":"P","v":4.03},{"s":"Non-fan","k":"bar","a":"N","v":3.78}
  ]},
  "bounds": "flush", "spacing": 11,
  "hconcat": [
   {"title": "Overall", "width": 49, "height": 244, "transform": [{"filter": "datum.s === 'Overall' && datum.k === 'bar'"}], "mark": {"type":"bar","stroke":"#333","strokeWidth":1},
    "encoding": {"x": {"field":"a","type":"nominal","scale":{"domain":["P","N"],"paddingInner":0,"paddingOuter":0.05},"axis":{"title":null}},
                 "y": {"field":"v","type":"quantitative","scale":{"domain":[0,6.22],"nice":false},"axis":{"title":"Mean Count","values":[0,1,2,3,4,5,6]}},
                 "color":{"field":"a","type":"nominal","title":null,"scale":{"domain":["P","N","sig"],"range":["#F0A73A","#97CBF5","#E8392E"]}}}},
   {"title": "Fan", "width": 49, "height": 244, "transform": [{"filter": "datum.s === 'Fan' && datum.k === 'bar'"}], "mark": {"type":"bar","stroke":"#8c8c8c","strokeWidth":1,"fillOpacity":0.62},
    "encoding": {"x": {"field":"a","type":"nominal","scale":{"domain":["P","N"],"paddingInner":0,"paddingOuter":0.05},"axis":{"title":null}},
                 "y": {"field":"v","type":"quantitative","scale":{"domain":[0,6.22],"nice":false},"axis":{"title":null,"labels":false,"values":[0,1,2,3,4,5,6]}},
                 "color":{"field":"a","type":"nominal","title":null,"scale":{"domain":["P","N","sig"],"range":["#F0A73A","#97CBF5","#E8392E"]}}}},
   {"title": "Non-fan", "width": 49, "height": 244, "transform": [{"filter": "datum.s === 'Non-fan' && datum.k === 'bar'"}], "mark": {"type":"bar","stroke":"#8c8c8c","strokeWidth":1,"fillOpacity":0.62},
    "encoding": {"x": {"field":"a","type":"nominal","scale":{"domain":["P","N"],"paddingInner":0,"paddingOuter":0.05},"axis":{"title":null}},
                 "y": {"field":"v","type":"quantitative","scale":{"domain":[0,6.22],"nice":false},"axis":{"title":null,"labels":false,"values":[0,1,2,3,4,5,6]}},
                 "color":{"field":"a","type":"nominal","title":null,"scale":{"domain":["P","N","sig"],"range":["#F0A73A","#97CBF5","#E8392E"]}}}}
  ]},
 {"title": {"text": "Dwell Time", "frame": "bounds", "fontSize": 18, "fontWeight": "bold", "color": "#000", "offset": 9},
  "data": {"values": [
   {"s":"Overall","k":"bar","a":"P","v":116.2},{"s":"Overall","k":"bar","a":"N","v":88.0},
   {"s":"Overall","k":"seg","a":"P","b":"P","v":119.9,"v2":121.2},{"s":"Overall","k":"seg","a":"P","b":"N","v":121.2,"v2":121.2},{"s":"Overall","k":"seg","a":"N","b":"N","v":92.1,"v2":121.2},{"s":"Overall","k":"star","a":"N","v":120.9},
   {"s":"Fan","k":"bar","a":"P","v":117.3},{"s":"Fan","k":"bar","a":"N","v":67.7},
   {"s":"Fan","k":"seg","a":"P","b":"P","v":119.9,"v2":121.2},{"s":"Fan","k":"seg","a":"P","b":"N","v":121.2,"v2":121.2},{"s":"Fan","k":"seg","a":"N","b":"N","v":71.0,"v2":121.2},{"s":"Fan","k":"star","a":"N","v":120.9},
   {"s":"Non-fan","k":"bar","a":"P","v":112.1},{"s":"Non-fan","k":"bar","a":"N","v":99.2}
  ]},
  "bounds": "flush", "spacing": 9,
  "hconcat": [
   {"title": "Overall", "width": 47, "height": 244, "transform": [{"filter": "datum.s === 'Overall'"}],
    "encoding": {"x": {"field":"a","type":"nominal","scale":{"domain":["P","N"],"paddingInner":0,"paddingOuter":0.05},"axis":{"title":null}},
                 "y": {"field":"v","type":"quantitative","scale":{"domain":[0,123.4],"nice":false},"axis":{"title":"Mean Time [min]","values":[0,20,40,60,80,100,120]}}},
    "layer": [
     {"transform":[{"filter":"datum.k === 'bar'"}],"mark":{"type":"bar","stroke":"#333","strokeWidth":1},"encoding":{"color":{"field":"a","type":"nominal","title":null,"scale":{"domain":["P","N","sig"],"range":["#F0A73A","#97CBF5","#E8392E"]}}}},
     {"transform":[{"filter":"datum.k === 'seg'"}],"mark":{"type":"rule","color":"#E8392E","strokeWidth":2},"encoding":{"x2":{"field":"b"},"y2":{"field":"v2"}}},
     {"transform":[{"filter":"datum.k === 'star'"}],"mark":{"type":"text","text":"*","fontSize":22,"fontWeight":"bold","color":"#E8392E","baseline":"middle","dy":6},"encoding":{"x":{"field":"a","type":"nominal","bandPosition":1,"scale":{"domain":["P","N"],"paddingInner":0,"paddingOuter":0.05},"axis":{"title":null}}}}
    ]},
   {"title": "Fan", "width": 47, "height": 244, "transform": [{"filter": "datum.s === 'Fan'"}],
    "encoding": {"x": {"field":"a","type":"nominal","scale":{"domain":["P","N"],"paddingInner":0,"paddingOuter":0.05},"axis":{"title":null}},
                 "y": {"field":"v","type":"quantitative","scale":{"domain":[0,123.4],"nice":false},"axis":{"title":null,"labels":false,"values":[0,20,40,60,80,100,120]}}},
    "layer": [
     {"transform":[{"filter":"datum.k === 'bar'"}],"mark":{"type":"bar","stroke":"#8c8c8c","strokeWidth":1,"fillOpacity":0.62},"encoding":{"color":{"field":"a","type":"nominal","title":null,"scale":{"domain":["P","N","sig"],"range":["#F0A73A","#97CBF5","#E8392E"]}}}},
     {"transform":[{"filter":"datum.k === 'seg'"}],"mark":{"type":"rule","color":"#E8392E","strokeWidth":2},"encoding":{"x2":{"field":"b"},"y2":{"field":"v2"}}},
     {"transform":[{"filter":"datum.k === 'star'"}],"mark":{"type":"text","text":"*","fontSize":22,"fontWeight":"bold","color":"#E8392E","baseline":"middle","dy":6},"encoding":{"x":{"field":"a","type":"nominal","bandPosition":1,"scale":{"domain":["P","N"],"paddingInner":0,"paddingOuter":0.05},"axis":{"title":null}}}}
    ]},
   {"title": "Non-fan", "width": 47, "height": 244, "transform": [{"filter": "datum.s === 'Non-fan' && datum.k === 'bar'"}], "mark": {"type":"bar","stroke":"#8c8c8c","strokeWidth":1,"fillOpacity":0.62},
    "encoding": {"x": {"field":"a","type":"nominal","scale":{"domain":["P","N"],"paddingInner":0,"paddingOuter":0.05},"axis":{"title":null}},
                 "y": {"field":"v","type":"quantitative","scale":{"domain":[0,123.4],"nice":false},"axis":{"title":null,"labels":false,"values":[0,20,40,60,80,100,120]}},
                 "color":{"field":"a","type":"nominal","title":null,"scale":{"domain":["P","N","sig"],"range":["#F0A73A","#97CBF5","#E8392E"]}}}}
  ]},
 {"title": {"text": "Revisit Count", "frame": "bounds", "fontSize": 18, "fontWeight": "bold", "color": "#000", "offset": 9},
  "data": {"values": [
   {"s":"Overall","k":"bar","a":"P","v":13.38},{"s":"Overall","k":"bar","a":"N","v":7.31},
   {"s":"Overall","k":"seg","a":"P","b":"P","v":13.87,"v2":14.68},{"s":"Overall","k":"seg","a":"P","b":"N","v":14.68,"v2":14.68},{"s":"Overall","k":"seg","a":"N","b":"N","v":7.82,"v2":14.68},{"s":"Overall","k":"star","a":"P","v":15.35},
   {"s":"Fan","k":"bar","a":"P","v":12.41},{"s":"Fan","k":"bar","a":"N","v":8.16},
   {"s":"Fan","k":"seg","a":"P","b":"P","v":12.83,"v2":13.64},{"s":"Fan","k":"seg","a":"P","b":"N","v":13.64,"v2":13.64},{"s":"Fan","k":"seg","a":"N","b":"N","v":8.70,"v2":13.64},{"s":"Fan","k":"star","a":"P","v":14.31},
   {"s":"Non-fan","k":"bar","a":"P","v":16.16},{"s":"Non-fan","k":"bar","a":"N","v":6.89}
  ]},
  "bounds": "flush", "spacing": 10,
  "hconcat": [
   {"title": "Overall", "width": 48, "height": 244, "transform": [{"filter": "datum.s === 'Overall'"}],
    "encoding": {"x": {"field":"a","type":"nominal","scale":{"domain":["P","N"],"paddingInner":0,"paddingOuter":0.05},"axis":{"title":null}},
                 "y": {"field":"v","type":"quantitative","scale":{"domain":[0,17],"nice":false},"axis":{"title":"Mean Count","values":[0,2,4,6,8,10,12,14,16]}}},
    "layer": [
     {"transform":[{"filter":"datum.k === 'bar'"}],"mark":{"type":"bar","stroke":"#333","strokeWidth":1},"encoding":{"color":{"field":"a","type":"nominal","title":null,"scale":{"domain":["P","N","sig"],"range":["#F0A73A","#97CBF5","#E8392E"]}}}},
     {"transform":[{"filter":"datum.k === 'seg'"}],"mark":{"type":"rule","color":"#E8392E","strokeWidth":2},"encoding":{"x2":{"field":"b"},"y2":{"field":"v2"}}},
     {"transform":[{"filter":"datum.k === 'star'"}],"mark":{"type":"text","text":"*","fontSize":22,"fontWeight":"bold","color":"#E8392E","baseline":"middle","dy":6},"encoding":{"x":{"field":"a","type":"nominal","bandPosition":1,"scale":{"domain":["P","N"],"paddingInner":0,"paddingOuter":0.05},"axis":{"title":null}}}}
    ]},
   {"title": "Fan", "width": 48, "height": 244, "transform": [{"filter": "datum.s === 'Fan'"}],
    "encoding": {"x": {"field":"a","type":"nominal","scale":{"domain":["P","N"],"paddingInner":0,"paddingOuter":0.05},"axis":{"title":null}},
                 "y": {"field":"v","type":"quantitative","scale":{"domain":[0,17],"nice":false},"axis":{"title":null,"labels":false,"values":[0,2,4,6,8,10,12,14,16]}}},
    "layer": [
     {"transform":[{"filter":"datum.k === 'bar'"}],"mark":{"type":"bar","stroke":"#8c8c8c","strokeWidth":1,"fillOpacity":0.62},"encoding":{"color":{"field":"a","type":"nominal","title":null,"scale":{"domain":["P","N","sig"],"range":["#F0A73A","#97CBF5","#E8392E"]}}}},
     {"transform":[{"filter":"datum.k === 'seg'"}],"mark":{"type":"rule","color":"#E8392E","strokeWidth":2},"encoding":{"x2":{"field":"b"},"y2":{"field":"v2"}}},
     {"transform":[{"filter":"datum.k === 'star'"}],"mark":{"type":"text","text":"*","fontSize":22,"fontWeight":"bold","color":"#E8392E","baseline":"middle","dy":6},"encoding":{"x":{"field":"a","type":"nominal","bandPosition":1,"scale":{"domain":["P","N"],"paddingInner":0,"paddingOuter":0.05},"axis":{"title":null}}}}
    ]},
   {"title": "Non-fan", "width": 48, "height": 244, "transform": [{"filter": "datum.s === 'Non-fan' && datum.k === 'bar'"}], "mark": {"type":"bar","stroke":"#8c8c8c","strokeWidth":1,"fillOpacity":0.62},
    "encoding": {"x": {"field":"a","type":"nominal","scale":{"domain":["P","N"],"paddingInner":0,"paddingOuter":0.05},"axis":{"title":null}},
                 "y": {"field":"v","type":"quantitative","scale":{"domain":[0,17],"nice":false},"axis":{"title":null,"labels":false,"values":[0,2,4,6,8,10,12,14,16]}},
                 "color":{"field":"a","type":"nominal","title":null,"scale":{"domain":["P","N","sig"],"range":["#F0A73A","#97CBF5","#E8392E"]}}}}
  ]}
]}
]
}
